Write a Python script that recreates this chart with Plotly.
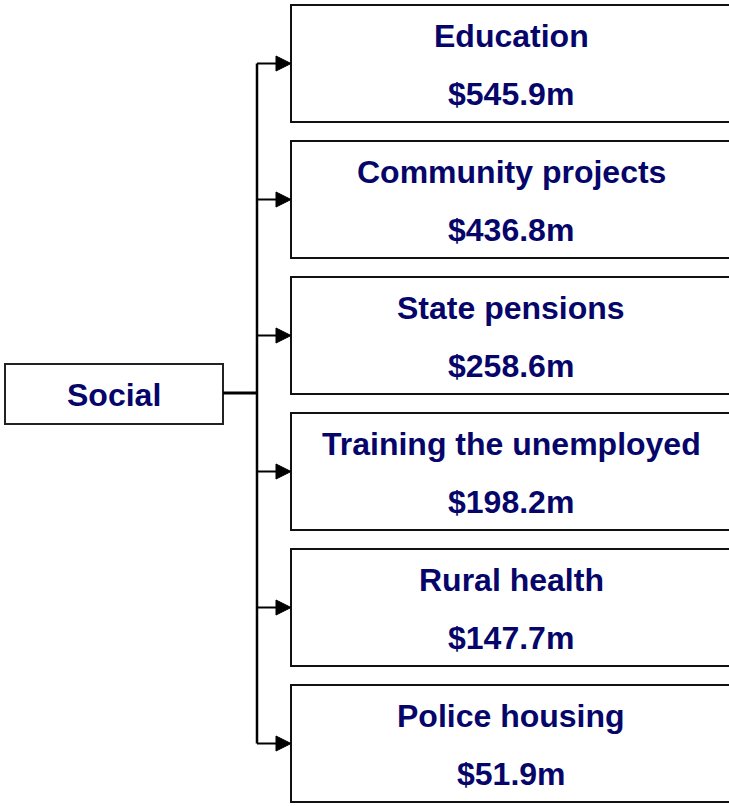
import plotly.graph_objects as go

root_label = "Social"
categories = ["Education", "Community projects", "State pensions",
              "Training the unemployed", "Rural health", "Police housing"]
values = [545.9, 436.8, 258.6, 198.2, 147.7, 51.9]

W, H = 729, 806
TEXT = "#06066a"
FONT = "Liberation Sans, Arial, sans-serif"
FS = 32

fig = go.Figure()
shapes = []
annotations = []

# root box
rx0, rx1, ry0, ry1 = 5, 223, 364, 424
shapes.append(dict(type="rect", x0=rx0, x1=rx1, y0=ry0, y1=ry1,
                   line=dict(color="#222", width=2), fillcolor="white"))
annotations.append(dict(x=(rx0 + rx1) / 2, y=(ry0 + ry1) / 2 + 1, text=f"<b>{root_label}</b>",
                        showarrow=False, font=dict(family=FONT, size=FS, color=TEXT)))

trunk_x = 257
bx0, bx1 = 291, 740
top0, step, bh = 5, 136, 117
centers = []
for i, (cat, val) in enumerate(zip(categories, values)):
    t = top0 + i * step
    b = t + bh
    cy = (t + b) / 2
    centers.append(cy)
    # open box: top, left and bottom edges (right side runs off the page)
    shapes.append(dict(type="path",
                       path=f"M {bx1} {t} L {bx0} {t} L {bx0} {b} L {bx1} {b}",
                       line=dict(color="#111", width=2)))
    annotations.append(dict(x=511, y=t + 31, text=f"<b>{cat}</b>", showarrow=False,
                            font=dict(family=FONT, size=FS, color=TEXT)))
    annotations.append(dict(x=511, y=t + 89, text=f"<b>${val:.1f}m</b>", showarrow=False,
                            font=dict(family=FONT, size=FS, color=TEXT)))
    # branch line
    shapes.append(dict(type="line", x0=trunk_x, x1=277, y0=cy, y1=cy,
                       line=dict(color="black", width=2)))
    # arrow head
    shapes.append(dict(type="path",
                       path=f"M 276 {cy-7.5} L 291 {cy} L 276 {cy+7.5} Z",
                       fillcolor="black", line=dict(color="black", width=1)))

# trunk
shapes.append(dict(type="line", x0=trunk_x, x1=trunk_x, y0=centers[0], y1=centers[-1],
                   line=dict(color="black", width=2.5)))
# root connector
shapes.append(dict(type="line", x0=rx1, x1=trunk_x, y0=(ry0 + ry1) / 2 - 1, y1=(ry0 + ry1) / 2 - 1,
                   line=dict(color="black", width=3)))

fig.update_layout(
    width=W, height=H, margin=dict(l=0, r=0, t=0, b=0),
    paper_bgcolor="white", plot_bgcolor="white",
    xaxis=dict(range=[0, W], visible=False, fixedrange=True),
    yaxis=dict(range=[H, 0], visible=False, fixedrange=True),
    shapes=shapes, annotations=annotations, showlegend=False,
)
fig.write_html("out.html", config={"displayModeBar": False},
               post_script="document.body.style.margin='0';document.body.style.overflow='hidden';")
